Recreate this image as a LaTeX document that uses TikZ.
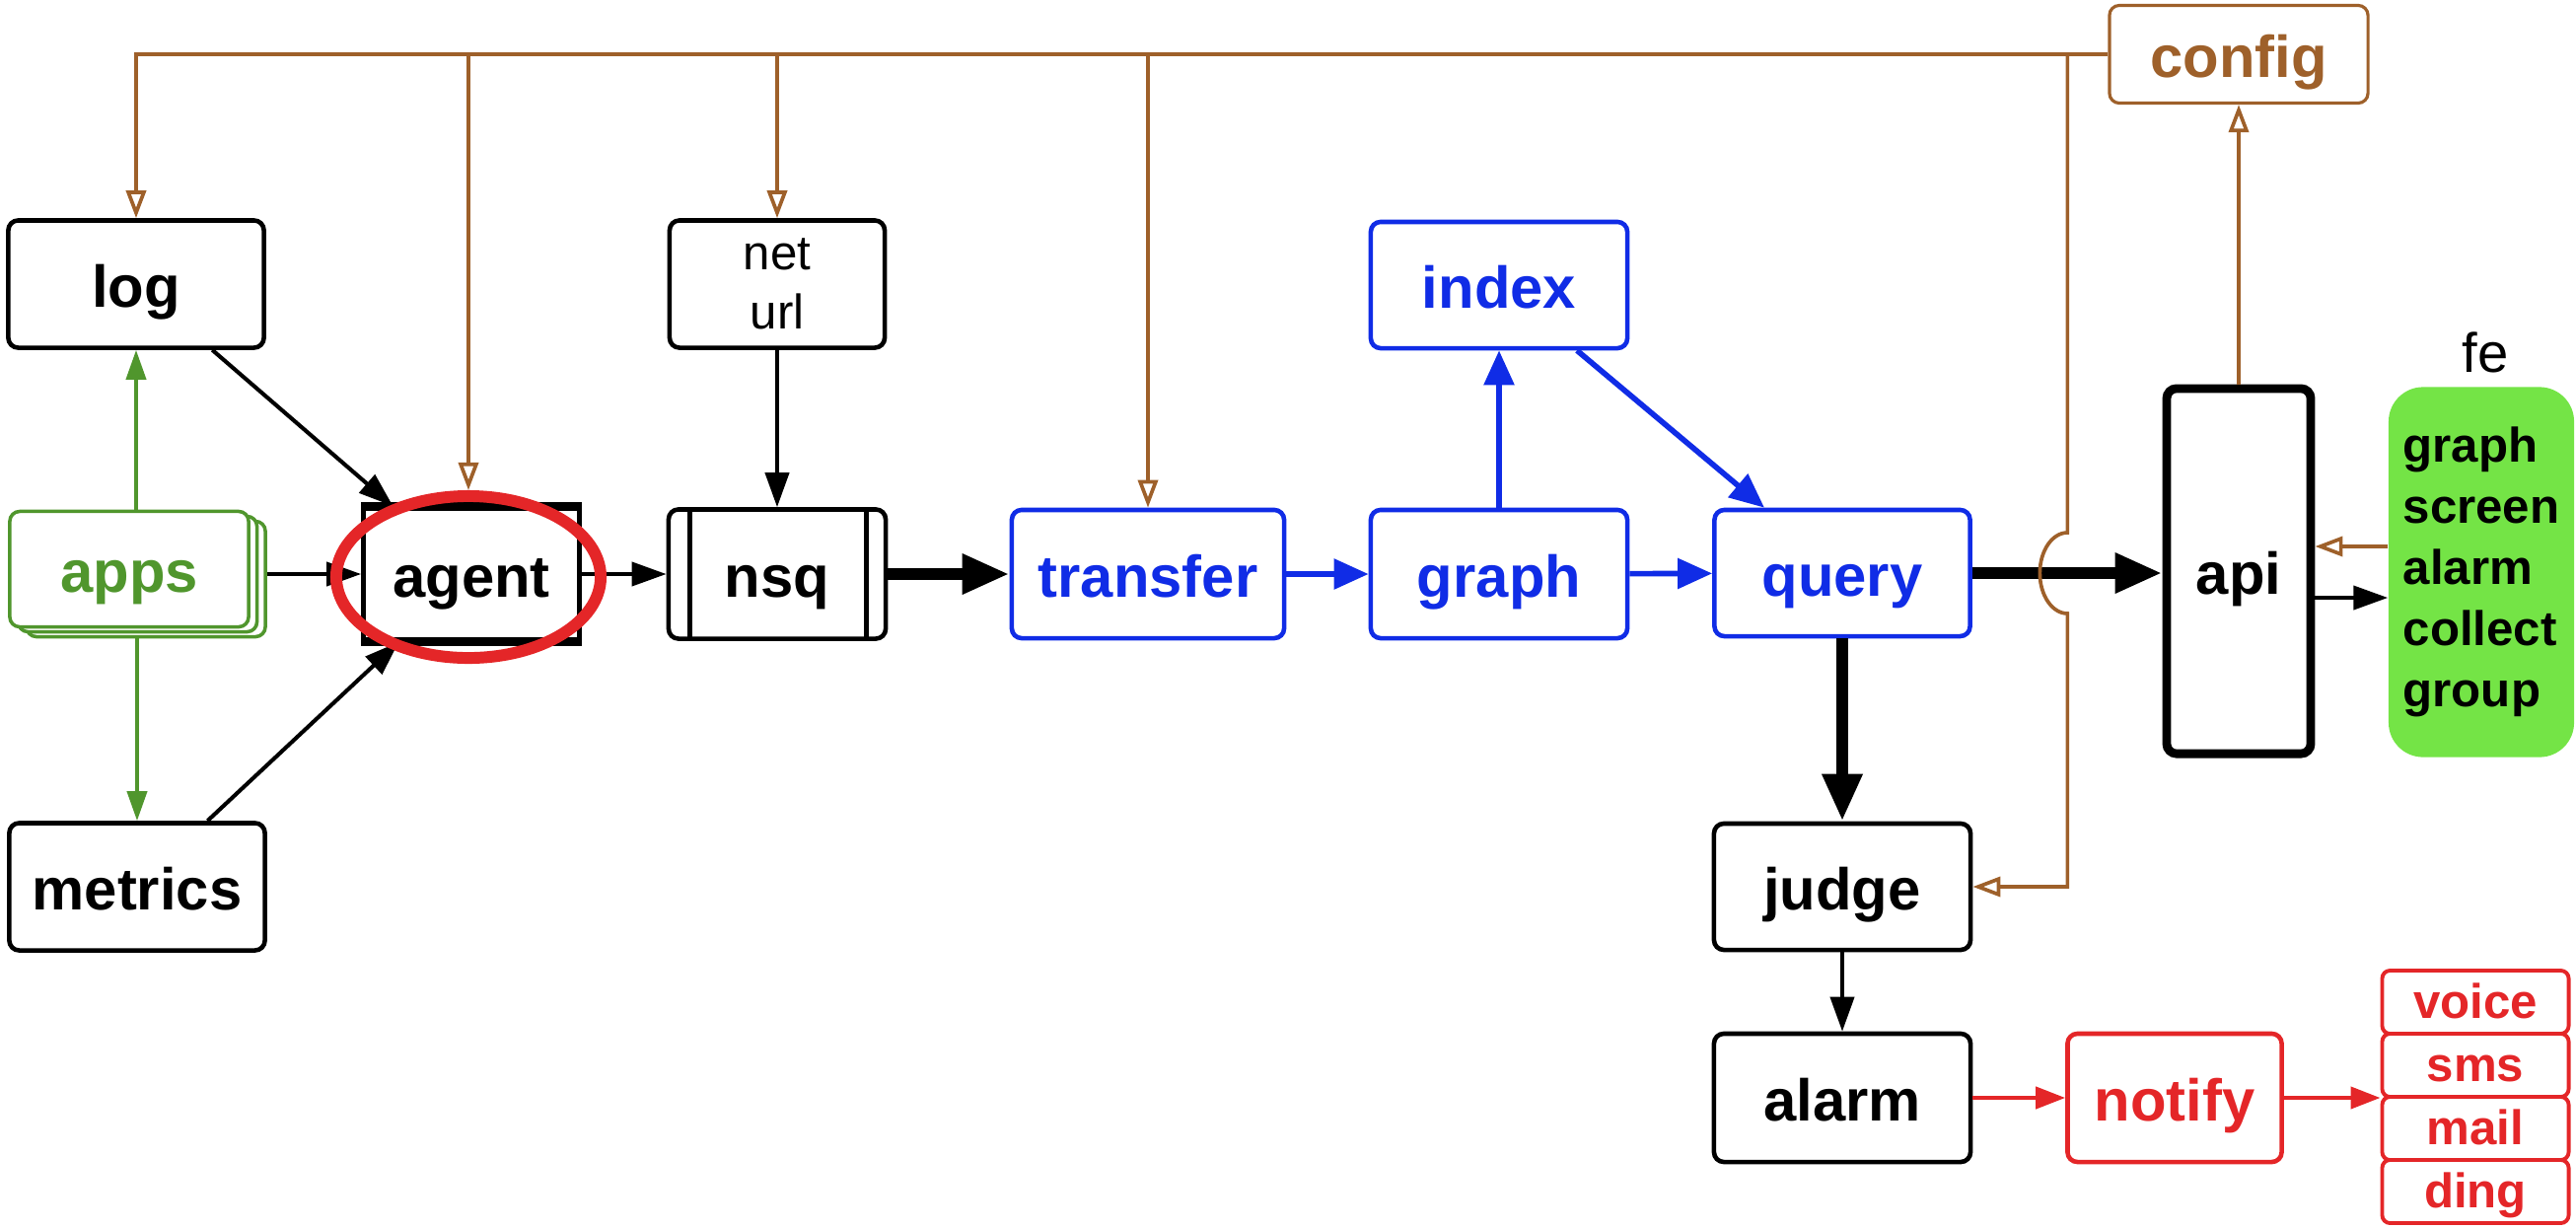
\documentclass[tikz,border=0pt]{standalone}
\usepackage{fontspec}
\setmainfont{Liberation Sans}
\usetikzlibrary{arrows.meta,calc,shapes.geometric}
\definecolor{cfgbrown}{RGB}{158,96,42}
\definecolor{flowblue}{RGB}{16,44,230}
\definecolor{appgreen}{RGB}{80,150,45}
\definecolor{alertred}{RGB}{228,38,40}
\definecolor{felime}{RGB}{116,228,70}
\begin{document}
\begin{tikzpicture}[x=0.01cm,y=0.01cm]
\tikzstyle{every node}+=[inner sep=0pt]
\tikzstyle{frame}=[draw, rounded corners=0.1cm, line width=1.3pt]
\tikzstyle{box}=[frame, font=\fontsize{17}{20}\selectfont\bfseries, text height=0.52cm, text depth=0.05cm]
\tikzstyle{bluebox}=[box, draw=flowblue, text=flowblue]
\tikzstyle{redbox}=[box, draw=alertred, text=alertred]
\tikzstyle{chanbox}=[redbox, rounded corners=0.08cm, line width=1.1pt, font=\fontsize{14}{17}\selectfont\bfseries, text height=0.39cm, text depth=0.07cm, minimum width=1.89cm, minimum height=0.64cm]
\tikzstyle{appbox}=[box, draw=appgreen, text=appgreen, fill=white, line width=1pt, minimum width=2.42cm, minimum height=1.17cm]
\tikzstyle{cfgline}=[draw=cfgbrown, line width=1.05pt, -{Triangle[open,length=0.28cm,width=0.2cm]}]
\tikzstyle{blk}=[line width=1.15pt, -{Triangle[length=0.35cm,width=0.24cm]}]
\tikzstyle{fat}=[line width=3.6pt, -{Triangle[length=0.48cm,width=0.38cm]}]
\tikzstyle{bluearr}=[draw=flowblue, line width=1.6pt, -{Triangle[length=0.35cm,width=0.3cm]}]
\tikzstyle{redarr}=[draw=alertred, line width=1.2pt, -{Triangle[length=0.3cm,width=0.22cm]}]
\tikzstyle{grnarr}=[draw=appgreen, line width=1.1pt, -{Triangle[length=0.3cm,width=0.2cm]}]
\useasboundingbox (0,0) rectangle (2612,-1245);
\node[box, draw=cfgbrown, text=cfgbrown, line width=0.9pt, minimum width=2.62cm, minimum height=0.99cm] (config) at (2270,-55) {config};
\node[box, minimum width=2.59cm, minimum height=1.29cm] (log) at (138,-288) {log};
\node[frame, font=\fontsize{14}{17}\selectfont, align=center, minimum width=2.18cm, minimum height=1.29cm] (neturl) at (788,-288) {net\\url};
\node[appbox] (apps2) at (148,-587) {};
\node[appbox] (apps1) at (139.5,-582) {};
\node[appbox] (apps) at (131,-577) {apps};
\node[box, rounded corners=0pt, minimum width=2.19cm, minimum height=1.33cm] (agent) at (478,-582) {agent};
\draw[line width=2.4pt] (agent.north west) -- (agent.north east);
\draw[line width=2.4pt] (agent.south west) -- (agent.south east);
\node[box, minimum width=2.2cm, minimum height=1.31cm] (nsq) at (788,-582) {nsq};
\draw[line width=1.3pt] ($(nsq.north west)+(24,0)$) -- ($(nsq.south west)+(24,0)$);
\draw[line width=1.3pt] ($(nsq.north east)+(-22,0)$) -- ($(nsq.south east)+(-22,0)$);
\node[box, minimum width=2.59cm, minimum height=1.29cm] (metrics) at (139,-899) {metrics};
\node[bluebox, minimum width=2.76cm, minimum height=1.3cm] (transfer) at (1164,-582) {transfer};
\node[bluebox, minimum width=2.6cm, minimum height=1.3cm] (graph) at (1520,-582) {graph};
\node[bluebox, minimum width=2.6cm, minimum height=1.28cm] (index) at (1520,-289) {index};
\node[bluebox, minimum width=2.59cm, minimum height=1.28cm] (query) at (1868,-581) {query};
\node[box, line width=2.5pt, minimum width=1.46cm, minimum height=3.7cm] (api) at (2270,-579) {api};
\node[fill=felime, rounded corners=0.35cm, minimum width=1.88cm, minimum height=3.75cm, align=left, font=\fontsize{14}{17.6}\selectfont\bfseries] (fe) at (2516,-580) {graph\\screen\\alarm\\collect\\group};
\node[font=\fontsize{16}{19}\selectfont] (felbl) at (2520,-357) {fe};
\node[box, minimum width=2.6cm, minimum height=1.28cm] (judge) at (1868,-899) {judge};
\node[box, minimum width=2.6cm, minimum height=1.3cm] (alarm) at (1868,-1113) {alarm};
\node[redbox, minimum width=2.17cm, minimum height=1.3cm] (notify) at (2205,-1113) {notify};
\node[chanbox] (voice) at (2510,-1016) {voice};
\node[chanbox] (sms) at (2510,-1080) {sms};
\node[chanbox] (mail) at (2510,-1144) {mail};
\node[chanbox] (ding) at (2510,-1208) {ding};
\draw[blk] (log) -- (agent);
\draw[blk] (metrics) -- (agent);
\draw[blk] ($(apps.east)+(17,-5)$) -- (agent);
\draw[blk] (agent) -- (nsq);
\draw[blk] (neturl) -- (nsq);
\draw[fat] (nsq) -- (transfer);
\draw[bluearr] (transfer) -- (graph);
\draw[bluearr] (graph) -- (index);
\draw[bluearr] (index) -- (query);
\draw[bluearr] (graph) -- (query);
\draw[fat] (query) -- (api.west |- query);
\draw[fat] (query) -- (judge);
\draw[blk] (judge) -- (alarm);
\draw[redarr] (alarm) -- (notify);
\draw[redarr] (notify) -- (notify -| sms.south west);
\draw[blk] ([yshift=-0.26cm]fe.west -| api.east) -- ([yshift=-0.26cm]fe.west);
\draw[grnarr] (apps.north -| log) -- (log);
\draw[grnarr] ($(apps.south -| metrics)+(0,-10)$) -- (metrics);
\node[ellipse, draw=alertred, line width=3.4pt, minimum width=2.68cm, minimum height=1.64cm] (hl) at (475,-585) {};
\draw[cfgline] (config.west) -- (config.west -| log) -- (log);
\draw[cfgline] (config.west -| hl) -- (hl);
\draw[cfgline] (config.west -| neturl) -- (neturl);
\draw[cfgline] (config.west -| transfer) -- (transfer);
\coordinate (tap) at ($(config.west)+(-41,0)$);
\draw[cfgline] (tap) -- ($(tap |- query)+(0,41)$) arc[start angle=90, end angle=270, x radius=28, y radius=41] -- (tap |- judge) -- (judge);
\draw[cfgline] (api) -- (config);
\draw[cfgline] ([yshift=0.26cm]fe.west) -- ([yshift=0.26cm]fe.west -| api.east);
\end{tikzpicture}
\end{document}
